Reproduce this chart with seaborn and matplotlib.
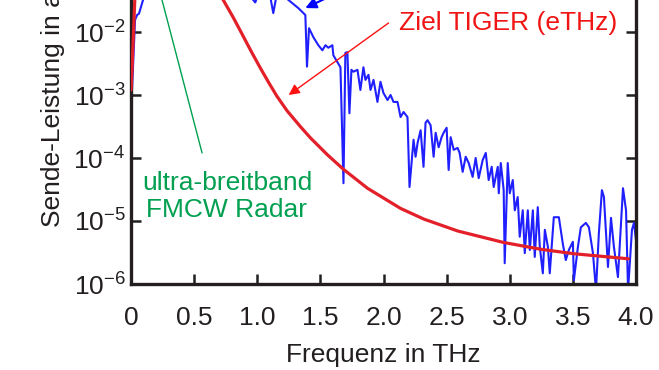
import numpy as np
import pandas as pd
import matplotlib
matplotlib.use("Agg")
import matplotlib.pyplot as plt
import seaborn as sns
from matplotlib.ticker import NullLocator

# ---------------- data ----------------
# measured spectrum (blue): frequency in THz, log10 of power
blue_freq = [0.000, 0.008, 0.032, 0.048, 0.063, 0.095, 0.15, 0.25, 0.35, 0.45,
             0.55, 0.65, 0.75, 0.85, 0.93, 0.984, 1.00, 1.06, 1.103, 1.127,
             1.151, 1.20, 1.246, 1.325, 1.381, 1.394, 1.410, 1.444, 1.484, 1.516,
             1.540, 1.563, 1.595, 1.603, 1.635, 1.659, 1.683, 1.698, 1.714, 1.730,
             1.746, 1.762, 1.794, 1.817, 1.841, 1.857, 1.881, 1.897, 1.921, 1.952,
             1.976, 2.000, 2.032, 2.056, 2.079, 2.111, 2.135, 2.159, 2.190, 2.206,
             2.238, 2.254, 2.270, 2.294, 2.317, 2.333, 2.349, 2.373, 2.397, 2.413,
             2.437, 2.460, 2.476, 2.500, 2.516, 2.532, 2.556, 2.587, 2.603, 2.627,
             2.651, 2.675, 2.706, 2.730, 2.754, 2.786, 2.810, 2.833, 2.857, 2.873,
             2.905, 2.913, 2.929, 2.952, 2.960, 2.984, 3.000, 3.024, 3.040, 3.063,
             3.079, 3.103, 3.119, 3.143, 3.159, 3.183, 3.198, 3.222, 3.238, 3.262,
             3.278, 3.302, 3.317, 3.349, 3.389, 3.421, 3.444, 3.468, 3.500, 3.508,
             3.540, 3.563, 3.603, 3.627, 3.659, 3.683, 3.706, 3.730, 3.746, 3.778,
             3.802, 3.825, 3.857, 3.897, 3.921, 3.937, 3.968, 3.984, 4.000]
blue_exp = [-2.95, -2.92, -1.81, -1.73, -1.71, -1.49, -1.20, -0.95, -0.85, -0.90,
            -1.00, -1.10, -1.20, -1.30, -1.40, -1.53, -1.45, -1.35, -1.44, -1.70,
            -1.44, -1.40, -1.49, -1.62, -1.73, -2.55, -1.94, -2.08, -2.21, -2.29,
            -2.21, -2.25, -2.21, -2.37, -2.48, -2.56, -4.40, -2.33, -2.32, -3.29,
            -2.60, -2.63, -2.60, -2.92, -2.56, -2.76, -2.68, -2.92, -2.76, -3.11,
            -2.79, -2.97, -3.08, -3.00, -3.11, -3.11, -3.35, -3.27, -3.35, -4.46,
            -3.71, -3.98, -3.76, -3.56, -4.14, -3.44, -3.40, -3.48, -3.98, -3.60,
            -3.83, -3.67, -3.60, -3.52, -4.19, -3.67, -3.87, -3.84, -3.92, -4.22,
            -3.98, -4.08, -4.30, -4.00, -4.32, -4.03, -3.92, -4.35, -4.14, -4.46,
            -4.14, -4.56, -4.08, -4.51, -5.67, -4.08, -4.56, -4.35, -4.83, -4.62,
            -5.25, -4.83, -5.51, -4.83, -5.46, -4.83, -5.57, -4.78, -5.41, -5.83,
            -5.14, -5.41, -5.83, -4.94, -4.94, -5.37, -5.62, -5.46, -5.33, -5.94,
            -5.41, -5.10, -5.03, -5.10, -5.51, -6.10, -5.19, -4.51, -4.62, -5.73,
            -4.95, -5.41, -5.89, -4.48, -4.83, -6.10, -5.14, -5.03, -5.30]

# target curve (red): frequency in THz, log10 of power
red_freq = [0.000, 0.008, 0.030, 0.06, 0.10, 0.20, 0.30, 0.40, 0.50, 0.60,
            0.66, 0.73, 0.81, 0.879, 0.95, 1.024, 1.09, 1.156, 1.236, 1.341,
            1.421, 1.556, 1.683, 1.873, 2.135, 2.32, 2.59, 2.95, 3.25, 3.51,
            3.94]
red_exp = [-2.92, -2.60, -1.49, -1.00, -0.65, -0.38, -0.32, -0.42, -0.68, -1.02,
           -1.24, -1.49, -1.77, -2.03, -2.30, -2.57, -2.80, -3.02, -3.25, -3.50,
           -3.68, -3.95, -4.18, -4.48, -4.80, -4.97, -5.16, -5.34, -5.45, -5.52,
           -5.60]

x_ticks = [0, 0.5, 1.0, 1.5, 2.0, 2.5, 3.0, 3.5, 4.0]
x_ticklabels = ["0", "0.5", "1.0", "1.5", "2.0", "2.5", "3.0", "3.5", "4.0"]
y_exps = [-6, -5, -4, -3, -2, -1, 0]

assert len(blue_freq) == len(blue_exp)
assert len(red_freq) == len(red_exp)

df_blue = pd.DataFrame({"f": blue_freq, "p": 10.0 ** np.array(blue_exp)})
df_red = pd.DataFrame({"f": red_freq, "p": 10.0 ** np.array(red_exp)})

# ---------------- style ----------------
sns.set_theme(style="ticks")
plt.rcParams["font.family"] = ["Liberation Sans", "DejaVu Sans"]
plt.rcParams["mathtext.fontset"] = "custom"
plt.rcParams["mathtext.rm"] = "Liberation Sans"
plt.rcParams["mathtext.it"] = "Liberation Sans:italic"
plt.rcParams["mathtext.bf"] = "Liberation Sans:bold"
plt.rcParams["axes.unicode_minus"] = False

FS = 19
dark = "#231f20"

fig = plt.figure(figsize=(6.59, 3.70), dpi=100)
fig.patch.set_facecolor("white")
ax = fig.add_axes([131 / 659, 86 / 370, 505 / 659, 378 / 370])
ax.set_facecolor("white")

sns.lineplot(data=df_blue, x="f", y="p", ax=ax, color="#2020ff", lw=1.5,
             estimator=None, sort=False, zorder=2)
sns.lineplot(data=df_red, x="f", y="p", ax=ax, color="#e3202a", lw=2.3,
             estimator=None, sort=False, zorder=3)

ax.set_yscale("log")
ax.set_xlim(0, 4)
ax.set_ylim(1e-6, 1e0)
ax.set_xticks(x_ticks)
ax.set_xticklabels(x_ticklabels)
ax.set_yticks([10.0 ** e for e in y_exps])
ax.set_yticklabels([r"10$^{%d}$" % e for e in y_exps])
ax.yaxis.set_minor_locator(NullLocator())
ax.xaxis.set_minor_locator(NullLocator())

ax.tick_params(axis="both", which="major", direction="in", length=7, width=1.8,
               labelsize=FS, color=dark, labelcolor="#231f20", right=True, top=True)
ax.tick_params(axis="x", pad=16)
ax.tick_params(axis="y", pad=4)
for sp in ax.spines.values():
    sp.set_visible(True)
    sp.set_linewidth(2.4)
    sp.set_color(dark)

ax.set_xlabel("Frequenz in THz", fontsize=FS, color=dark, labelpad=9)
ax.set_ylabel("Sende-Leistung in a.u.", fontsize=FS, color=dark, labelpad=6)

# annotations
ax.annotate("", xy=(1.249, 10 ** -3.0), xytext=(2.04, 10 ** -1.857),
            arrowprops=dict(arrowstyle="-|>", color="#ff1010", lw=1.0,
                            mutation_scale=16, shrinkA=0, shrinkB=0), zorder=4)
ax.text(2.12, 10 ** -1.86, "Ziel TIGER (eTHz)", color="#f01414", fontsize=FS,
        ha="left", va="center")

ax.annotate("", xy=(1.381, 10 ** -1.62), xytext=(1.78, 10 ** -1.24),
            arrowprops=dict(arrowstyle="-|>", color="#0000ff", lw=1.5,
                            mutation_scale=16, shrinkA=0, shrinkB=0), zorder=4)

ax.annotate("", xy=(0.116, 10 ** -0.5), xytext=(0.563, 10 ** -3.92),
            arrowprops=dict(arrowstyle="-", color="#00a050", lw=1.0,
                            shrinkA=0, shrinkB=0), zorder=4)
ax.text(0.76, 10 ** -4.61, "ultra-breitband\nFMCW Radar", color="#00a050",
        fontsize=FS, ha="center", va="center", linespacing=1.15)

fig.savefig("out.png", dpi=100)
